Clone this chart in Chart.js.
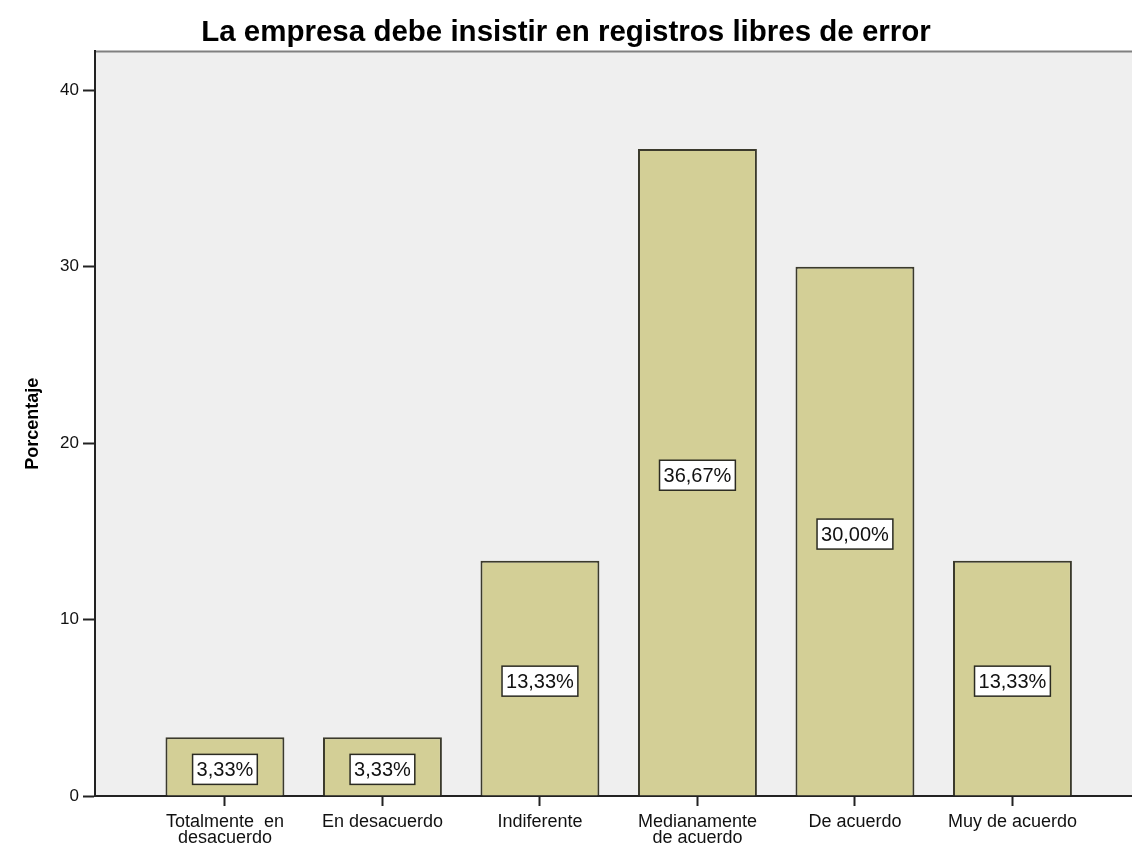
<!DOCTYPE html>
<html>
<head>
<meta charset="utf-8">
<script src="https://cdn.jsdelivr.net/npm/chart.js@4.4.0/dist/chart.umd.min.js"></script>
<style>
  html, body { margin: 0; padding: 0; background: #fff; }
  #wrap { width: 1132px; height: 852px; }
</style>
</head>
<body>
<div id="wrap"><canvas id="chart1" width="1132" height="852"></canvas></div>
<script>
// data
const categories = [
  ['Totalmente  en', 'desacuerdo'],
  ['En desacuerdo'],
  ['Indiferente'],
  ['Medianamente', 'de acuerdo'],
  ['De acuerdo'],
  ['Muy de acuerdo']
];
const percentages = [3.33, 3.33, 13.33, 36.67, 30.00, 13.33];
const yTicks = [0, 10, 20, 30, 40];

// grey plot background and the top frame line
const plotBackground = {
  id: 'plotBackground',
  beforeDraw(chart) {
    const { ctx, chartArea } = chart;
    ctx.save();
    ctx.fillStyle = '#efefef';
    ctx.fillRect(chartArea.left, chartArea.top, chartArea.right - chartArea.left, chartArea.bottom - chartArea.top);
    ctx.strokeStyle = '#808080';
    ctx.lineWidth = 2;
    ctx.beginPath();
    ctx.moveTo(chartArea.left, chartArea.top);
    ctx.lineTo(chartArea.right, chartArea.top);
    ctx.stroke();
    ctx.restore();
  }
};

// white boxed value labels in the middle of every bar
const boxLabels = {
  id: 'boxLabels',
  afterDatasetsDraw(chart) {
    const { ctx } = chart;
    const meta = chart.getDatasetMeta(0);
    ctx.save();
    ctx.font = '20px "Liberation Sans", Arial, sans-serif';
    ctx.textAlign = 'center';
    ctx.textBaseline = 'middle';
    meta.data.forEach((bar, i) => {
      const text = percentages[i].toFixed(2).replace('.', ',') + '%';
      const w = ctx.measureText(text).width + 8;
      const h = 30;
      const cy = (bar.y + bar.base) / 2 + 3;
      ctx.fillStyle = '#ffffff';
      ctx.fillRect(bar.x - w / 2, cy - h / 2, w, h);
      ctx.strokeStyle = '#2b2b22';
      ctx.lineWidth = 1.5;
      ctx.strokeRect(bar.x - w / 2, cy - h / 2, w, h);
      ctx.fillStyle = '#111111';
      ctx.fillText(text, bar.x, cy + 1);
    });
    ctx.restore();
  }
};

const ctx = document.getElementById('chart1');

new Chart(ctx, {
  type: 'bar',
  data: {
    datasets: [{
      label: 'Porcentaje',
      data: percentages.map((v, i) => ({ x: i, y: v })),
      backgroundColor: '#d3cf96',
      borderColor: '#3b3a2c',
      borderWidth: 2,
      barPercentage: 0.755,
      categoryPercentage: 1
    }]
  },
  options: {
    responsive: false,
    animation: false,
    layout: { padding: { left: 0, right: 0, top: 0, bottom: 0 } },
    plugins: {
      legend: { display: false },
      tooltip: { enabled: false },
      title: {
        display: true,
        text: 'La empresa debe insistir en registros libres de error',
        color: '#000',
        font: { family: '"Liberation Sans", Arial, sans-serif', size: 29.5, weight: 'bold' },
        padding: { top: 15, bottom: 1 }
      }
    },
    scales: {
      x: {
        type: 'linear',
        offset: false,
        min: -0.825,
        max: 5.759,
        afterBuildTicks(scale) {
          scale.ticks = categories.map((c, i) => ({ value: i }));
        },
        afterFit(scale) { scale.height = 56; },
        grid: { offset: false, drawOnChartArea: false, drawTicks: true, tickLength: 10, tickColor: '#222', tickWidth: 2 },
        border: { display: true, color: '#222', width: 2 },
        ticks: {
          autoSkip: false,
          maxRotation: 0,
          padding: 8,
          color: '#111',
          font: { family: '"Liberation Sans", Arial, sans-serif', size: 18, lineHeight: 0.9 },
          callback: (value) => categories[value]
        }
      },
      y: {
        min: 0,
        max: 42.2,
        afterBuildTicks(scale) {
          scale.ticks = yTicks.map(v => ({ value: v }));
        },
        afterFit(scale) { scale.width = 95; },
        grid: { drawOnChartArea: false, drawTicks: true, tickLength: 12, tickColor: '#222', tickWidth: 2 },
        border: { display: true, color: '#222', width: 2 },
        ticks: {
          padding: 4,
          color: '#111',
          font: { family: '"Liberation Sans", Arial, sans-serif', size: 17 }
        },
        title: {
          display: true,
          text: 'Porcentaje',
          color: '#000',
          font: { family: '"Liberation Sans", Arial, sans-serif', size: 18, weight: 'bold' },
          padding: { top: 22, bottom: 0 }
        }
      }
    }
  },
  plugins: [plotBackground, boxLabels]
});
</script>
</body>
</html>
